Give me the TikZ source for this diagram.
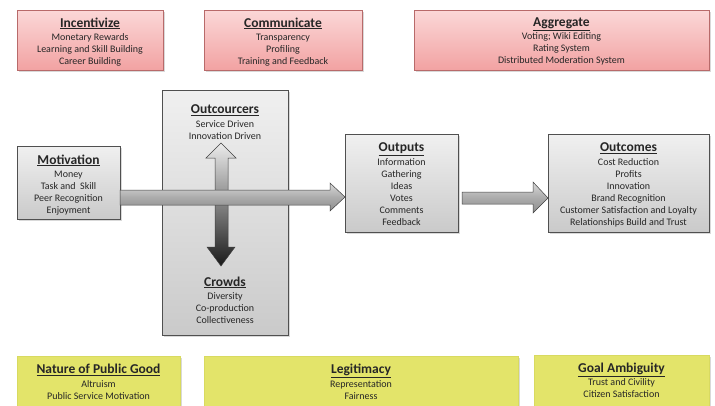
\documentclass[tikz,border=0pt]{standalone}
\usepackage{fontspec}
\setmainfont{Carlito}
\usetikzlibrary{shadows}
\definecolor{pinktop}{HTML}{FBD8D8}
\definecolor{pinkbot}{HTML}{F2A2A2}
\definecolor{pinkedge}{HTML}{B86A6A}
\definecolor{graytop}{HTML}{F0F0F0}
\definecolor{graybot}{HTML}{CACACA}
\definecolor{grayedge}{HTML}{505050}
\definecolor{yel}{HTML}{E3E46A}
\definecolor{yeledge}{HTML}{D8DA60}
\newcommand{\ttl}[1]{{\fontsize{13.5}{12}\selectfont\bfseries\underline{#1}}\\[1.5pt]}
\tikzset{
  box/.style={rectangle, anchor=north west, outer sep=0pt, inner sep=0pt, line width=0.6pt,
    drop shadow={shadow xshift=1.5pt, shadow yshift=-1.5pt, opacity=0.3}},
  pinkbox/.style={box, draw=pinkedge, top color=pinktop, bottom color=pinkbot},
  graybox/.style={box, draw=grayedge, top color=graytop, bottom color=graybot},
  yelbox/.style={box, draw=yeledge, fill=yel},
  txt/.style={anchor=north, align=center, inner sep=0pt, text=black!85,
    font=\fontsize{10}{12}\selectfont},
  blockarrow/.style={draw=black!75, line width=0.5pt, line join=miter},
}
\begin{document}
\begin{tikzpicture}[x=1pt,y=-1pt]
\useasboundingbox (0,0) rectangle (715,405);
% top pink boxes
\node[pinkbox, minimum width=146pt, minimum height=60pt] (inc) at (17,10) {};
\node[pinkbox, minimum width=158pt, minimum height=60pt] (com) at (204,10) {};
\node[pinkbox, minimum width=295pt, minimum height=60pt] (agg) at (414,10) {};
\node[txt] (inct) at ([yshift=-7.5pt]inc.north) {\ttl{Incentivize}Monetary Rewards\\Learning and Skill Building\\Career Building};
\node[txt] (comt) at ([yshift=-7.5pt]com.north) {\ttl{Communicate}Transparency\\Profiling\\Training and Feedback};
\node[txt] (aggt) at ([yshift=-7.5pt]agg.north) {\ttl{Aggregate}Voting; Wiki Editing\\Rating System\\Distributed Moderation System};
% middle gray boxes
\node[graybox, minimum width=103pt, minimum height=73pt] (mot) at (17,146) {};
\node[graybox, minimum width=126pt, minimum height=245pt] (big) at (162,90) {};
\node[graybox, minimum width=113pt, minimum height=98pt] (outp) at (345,134) {};
\node[graybox, minimum width=161pt, minimum height=98pt] (outc) at (548,134) {};
\node[txt] (mott) at ([yshift=-8.5pt]mot.north) {\ttl{Motivation}Money\\Task and\ \ Skill\\Peer Recognition\\Enjoyment};
\node[txt] (oct) at ([yshift=-14.5pt]big.north) {\ttl{Outcourcers}Service Driven\\Innovation Driven};
\node[txt] (crt) at ([yshift=-186.5pt]big.north) {\ttl{Crowds}Diversity\\Co-production\\Collectiveness};
\node[txt] (outpt) at ([yshift=-8.5pt]outp.north) {\ttl{Outputs}Information\\Gathering\\Ideas\\Votes\\Comments\\Feedback};
\node[txt] (outct) at ([yshift=-8.5pt]outc.north) {\ttl{Outcomes}Cost Reduction\\Profits\\Innovation\\Brand Recognition\\Customer Satisfaction and Loyalty\\Relationships Build and Trust};
% bottom yellow boxes
\node[yelbox, minimum width=163pt, minimum height=54pt] (nat) at (17,356) {};
\node[yelbox, minimum width=314pt, minimum height=54pt] (leg) at (204,356) {};
\node[yelbox, minimum width=175pt, minimum height=54pt] (goal) at (534,355) {};
\node[txt] (natt) at ([yshift=-8pt]nat.north) {\ttl{Nature of Public Good}Altruism\\Public Service Motivation};
\node[txt] (legt) at ([yshift=-8pt]leg.north) {\ttl{Legitimacy}Representation\\Fairness};
\node[txt] (goalt) at ([yshift=-7.5pt]goal.north) {\ttl{Goal Ambiguity}Trust and Civility\\Citizen Satisfaction};
% vertical double arrow (between Outcourcers and Crowds)
\coordinate (uptip) at (221,143);
\coordinate (dntip) at (221,266);
\path[blockarrow, top color=gray!15, bottom color=black!90]
  (uptip) -- (236,158) -- (228,158) -- (228,247) -- (235,247) -- (dntip)
  -- (207,247) -- (215,247) -- (215,158) -- (206,158) -- cycle;
% big horizontal arrow Motivation -> Outputs
\path[blockarrow, top color=gray!30, bottom color=gray!90, middle color=gray!65]
  (mot.east |- 0,190) -- (330,190) -- (330,183) -- (outp.west |- 0,197)
  -- (330,211) -- (330,205) -- (mot.east |- 0,205) -- cycle;
% arrow Outputs -> Outcomes
\path[blockarrow, top color=gray!30, bottom color=gray!90, middle color=gray!65]
  ([xshift=4pt]outp.east |- 0,192) -- (533,192) -- (533,182) -- (outc.west |- 0,198)
  -- (533,213) -- (533,204) -- ([xshift=4pt]outp.east |- 0,204) -- cycle;
\end{tikzpicture}
\end{document}
